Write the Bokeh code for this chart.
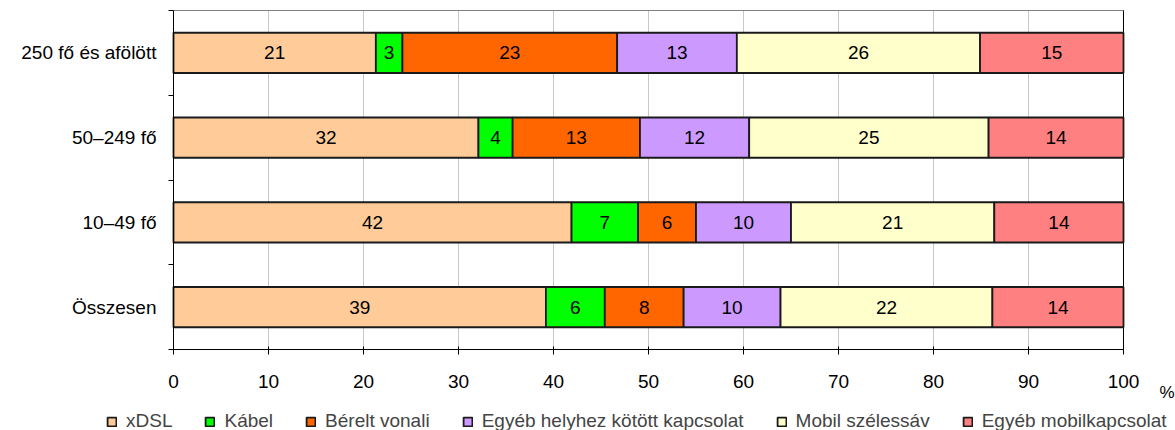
import numpy as np
from bokeh.plotting import figure
from bokeh.models import (ColumnDataSource, FixedTicker, Legend, LegendItem, Label,
                          LinearAxis)
from bokeh.core.properties import value
from bokeh.embed import file_html
from bokeh.resources import INLINE

# categories bottom -> top
categories = ["Összesen", "10–49 fő", "50–249 fő", "250 fő és afölött"]
series = ["xDSL", "Kábel", "Bérelt vonali", "Egyéb helyhez kötött kapcsolat",
          "Mobil szélessáv", "Egyéb mobilkapcsolat"]
colors = ["#FFCC99", "#00FF00", "#FF6600", "#CC99FF", "#FFFFCC", "#FF8080"]

xdsl = [39.2, 41.9, 32.1, 21.3]
kabel = [6.2, 7.0, 3.6, 2.8]
berelt = [8.3, 6.1, 13.4, 22.6]
egyeb_helyhez = [10.2, 10.0, 11.5, 12.6]
mobil = [22.3, 21.4, 25.2, 25.6]
egyeb_mobil = [13.8, 13.6, 14.2, 15.1]

x_ticks = [0, 10, 20, 30, 40, 50, 60, 70, 80, 90, 100]
unit_label = "%"

values = [xdsl, kabel, berelt, egyeb_helyhez, mobil, egyeb_mobil]
ypos = [i + 0.5 for i in range(len(categories))]
n_cat = len(categories)
x_max = x_ticks[-1]

FONT = "Liberation Sans"
FS = "19px"

W, H = 1175, 430
plot_left, plot_w = 173, 950      # px of the value axis
plot_top, plot_h = 10, 339
px_x = plot_w / x_max
px_y = plot_h / n_cat
x_range = (-plot_left / px_x, (W - plot_left) / px_x)
y_range = (-(H - plot_top - plot_h) / px_y, n_cat + plot_top / px_y)

p = figure(width=W, height=H, x_range=x_range, y_range=y_range,
           output_backend="svg", toolbar_location=None,
           x_axis_location=None, y_axis_location=None, min_border=0)
p.grid.visible = False
p.outline_line_color = None

# vertical grid lines
p.segment(x0=x_ticks, y0=[0] * len(x_ticks), x1=x_ticks, y1=[n_cat] * len(x_ticks),
          line_color="#c8c8c8", line_width=1)
# top border (gray) and right border (black)
p.segment(x0=[0], y0=[n_cat], x1=[x_max], y1=[n_cat], line_color="#808080", line_width=1)
p.segment(x0=[x_max], y0=[0], x1=[x_max], y1=[n_cat], line_color="black", line_width=1)

left = np.zeros(n_cat)
renderers = []
label_x, label_y, label_t = [], [], []
for name, vals, col in zip(series, values, colors):
    vals = np.array(vals)
    right = left + vals
    src = ColumnDataSource(dict(y=ypos, left=left, right=right))
    r = p.hbar(y="y", left="left", right="right", height=0.475, source=src,
               fill_color=col, line_color="#1a1a1a", line_width=1.8)
    renderers.append(r)
    for yy, l, rr, v in zip(ypos, left, right, vals):
        label_x.append((l + rr) / 2)
        label_y.append(yy)
        label_t.append(f"{v:.0f}")
    left = right

lsrc = ColumnDataSource(dict(x=label_x, y=label_y, t=label_t))
p.text(x="x", y="y", text="t", source=lsrc, text_align="center",
       text_baseline="middle", text_font=value(FONT), text_font_size=FS,
       text_color="black")

xaxis = LinearAxis(fixed_location=0, bounds=(0, x_max),
                   ticker=FixedTicker(ticks=x_ticks))
xaxis.major_tick_in = 3
xaxis.major_tick_out = 5
xaxis.minor_tick_line_color = None
xaxis.axis_line_color = "black"
xaxis.major_tick_line_color = "black"
xaxis.major_label_text_font = FONT
xaxis.major_label_text_font_size = FS
xaxis.major_label_text_color = "black"
xaxis.major_label_standoff = 20
p.add_layout(xaxis, "below")

yaxis = LinearAxis(fixed_location=0, bounds=(0, n_cat),
                   ticker=FixedTicker(ticks=ypos, minor_ticks=list(range(n_cat + 1))))
yaxis.major_label_overrides = {y: c for y, c in zip(ypos, categories)}
yaxis.major_tick_out = 0
yaxis.major_tick_in = 0
yaxis.minor_tick_out = 5
yaxis.minor_tick_in = 0
yaxis.minor_tick_line_color = "black"
yaxis.axis_line_color = "black"
yaxis.major_label_text_font = FONT
yaxis.major_label_text_font_size = FS
yaxis.major_label_text_color = "black"
yaxis.major_label_standoff = 12
p.add_layout(yaxis, "left")

p.add_layout(Label(x=x_max, y=0, text=unit_label, x_offset=36, y_offset=-52,
                   text_font=FONT, text_font_size="17px", text_color="black"))

legend = Legend(items=[LegendItem(label=s, renderers=[r]) for s, r in zip(series, renderers)],
                orientation="horizontal", location=(106, -2),
                label_text_font=FONT, label_text_font_size=FS,
                glyph_width=11, glyph_height=11, spacing=32, label_standoff=9,
                padding=0, margin=0, border_line_color=None,
                background_fill_alpha=0)
p.add_layout(legend, "center")

open("out.html", "w").write(file_html(p, INLINE))
